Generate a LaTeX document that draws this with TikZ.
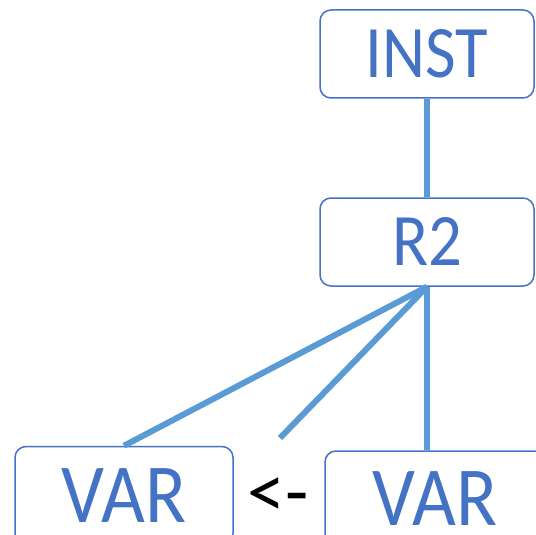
\documentclass[tikz,border=0pt]{standalone}
\usepackage{graphicx}
\usepackage{fontspec}
\setmainfont{Carlito}
\definecolor{boxblue}{HTML}{4472C4}
\definecolor{linkblue}{HTML}{5B9BD5}
\newcommand{\narrow}[1]{\scalebox{0.9}[1]{#1}}
\begin{document}
\begin{tikzpicture}[x=1pt,y=-1pt,
  box/.style={draw=boxblue,line width=1.5pt,rounded corners=11pt,text=boxblue,
    inner sep=0pt,text depth=0pt},
  small/.style={minimum width=214pt,minimum height=88pt,
    font=\fontsize{74}{74}\selectfont,text height=47.7pt},
  large/.style={font=\fontsize{84}{84}\selectfont,text height=54pt},
  link/.style={draw=linkblue,line width=6pt}]
\useasboundingbox (0,0) rectangle (536,535);
% tree nodes
\node[box,small] (inst) at (427,54) {\narrow{INST}};
\node[box,small] (r2) at (427,242) {\narrow{R2}};
\node[box,large,minimum width=218pt,minimum height=98pt] (varl) at (124,495.5) {\narrow{VAR}};
\node[box,large,minimum width=220pt,minimum height=95pt] (varr) at (435,498.5) {\narrow{VAR}};
\node[font=\fontsize{76}{76}\selectfont,inner sep=0pt] (arrow) at (278,498) {<-};
\coordinate (loose) at (280,438);
% connectors
\draw[link] (inst.south) -- (r2.north);
\draw[link] (r2.south) -- (varl.north);
\draw[link] (r2.south) -- (loose);
\draw[link] (r2.south) -- (r2.south |- varr.north);
\end{tikzpicture}
\end{document}
